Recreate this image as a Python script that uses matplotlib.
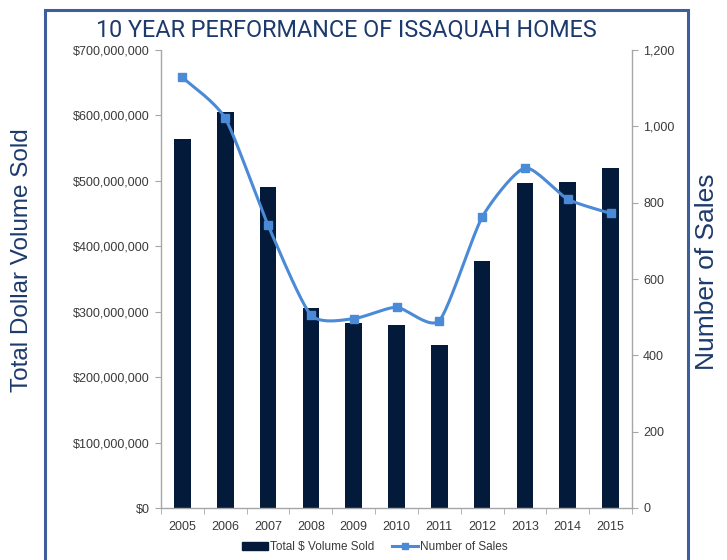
import numpy as np
import matplotlib
matplotlib.use("Agg")
import matplotlib.pyplot as plt
from matplotlib.ticker import FuncFormatter, FixedLocator
from matplotlib.lines import Line2D
from matplotlib.patches import Patch, Rectangle

years = ["2005", "2006", "2007", "2008", "2009", "2010", "2011", "2012", "2013", "2014", "2015"]
volume = [564e6, 606e6, 490e6, 306e6, 282e6, 279e6, 249e6, 378e6, 496e6, 498e6, 519e6]
sales = [1128, 1021, 741, 506, 496, 526, 491, 762, 891, 809, 772]

bar_color = "#031a3a"
line_color = "#4a8ad6"
text_blue = "#1c3a6c"
spine_gray = "#a6a6a6"
tick_text = "#3a3a3a"

plt.rcParams['font.family'] = ['Liberation Sans', 'DejaVu Sans']

fig = plt.figure(figsize=(7.27, 5.6), dpi=100)
ax = fig.add_axes([161/727, 1-508/560, (632-161)/727, (508-50)/560])
ax2 = ax.twinx()

x = np.arange(len(years))
ax.bar(x, volume, width=0.39, color=bar_color, zorder=2)
ax.set_xlim(-0.5, len(years)-0.5)
ax.set_ylim(0, 700e6)
ax.yaxis.set_major_locator(FixedLocator(np.arange(0, 700e6+1, 100e6)))
ax.yaxis.set_major_formatter(FuncFormatter(lambda v, p: "${:,.0f}".format(v)))
ax.set_xticks(x)
ax.set_xticklabels(years)
ax.set_xticks(np.arange(-0.5, len(years), 1.0), minor=True)
ax.tick_params(axis='x', which='major', length=0, pad=9, labelsize=9, labelcolor=tick_text)
ax.tick_params(axis='x', which='minor', length=4, color=spine_gray, direction='out')
ax.tick_params(axis='y', length=4, color=spine_gray, labelsize=9, labelcolor=tick_text, pad=4)

# smooth line (cardinal spline through the data points)
xs = np.asarray(x, float)
ys = np.asarray(sales, float)
c = 0.65
px = np.concatenate([[xs[0]], xs, [xs[-1]]])
py = np.concatenate([[ys[0]], ys, [ys[-1]]])
sx, sy = [], []
t = np.linspace(0, 1, 40)
h00 = 2*t**3 - 3*t**2 + 1
h10 = t**3 - 2*t**2 + t
h01 = -2*t**3 + 3*t**2
h11 = t**3 - t**2
for i in range(1, len(px)-2):
    for arr, p in ((sx, px), (sy, py)):
        m1 = c*(p[i+1]-p[i-1])/2
        m2 = c*(p[i+2]-p[i])/2
        arr.extend(h00*p[i] + h10*m1 + h01*p[i+1] + h11*m2)
ax2.plot(sx, sy, color=line_color, lw=2.2, zorder=3, solid_capstyle='round')
ax2.plot(xs, ys, ls='none', marker='s', ms=6, color=line_color, zorder=4)
ax2.set_ylim(0, 1200)
ax2.yaxis.set_major_locator(FixedLocator(np.arange(0, 1201, 200)))
ax2.yaxis.set_major_formatter(FuncFormatter(lambda v, p: "{:,.0f}".format(v)))
ax2.tick_params(axis='y', length=4, color=spine_gray, labelsize=9, labelcolor=tick_text, pad=4)

for a in (ax, ax2):
    a.spines['top'].set_visible(False)
    for s in ('left', 'right', 'bottom'):
        a.spines[s].set_color(spine_gray)
        a.spines[s].set_linewidth(1.0)
ax2.spines['left'].set_visible(False)
ax2.spines['bottom'].set_visible(False)
ax.spines['right'].set_visible(False)
ax.set_zorder(1)
ax2.set_zorder(2)

fig.text(346/727, 1-30/560, "10 YEAR PERFORMANCE OF ISSAQUAH HOMES", ha='center', va='center',
         fontsize=16.8, color=text_blue, family=['Roboto', 'DejaVu Sans'])
fig.text(22/727, 1-260/560, "Total Dollar Volume Sold", rotation=90, ha='center', va='center',
         fontsize=17.5, color=text_blue)
fig.text(707/727, 1-272/560, "Number of Sales", rotation=90, ha='center', va='center',
         fontsize=19, color=text_blue)

handles = [Patch(color=bar_color), Line2D([], [], color=line_color, lw=2.2, marker='s', ms=5)]
fig.legend(handles, ["Total $ Volume Sold", "Number of Sales"], loc='center', bbox_to_anchor=(375/727, 1-547/560),
           ncol=2, frameon=False, fontsize=8.5, handlelength=2.2, handletextpad=0.2, columnspacing=1.5,
           labelcolor=tick_text)

border = Rectangle((45/727, -0.1), (688-45)/727, 1.1-10/560, transform=fig.transFigure, fill=False,
                   edgecolor="#3d5f9c", lw=2.2, clip_on=False)
fig.patches.append(border)

fig.savefig("out.png", dpi=100)
